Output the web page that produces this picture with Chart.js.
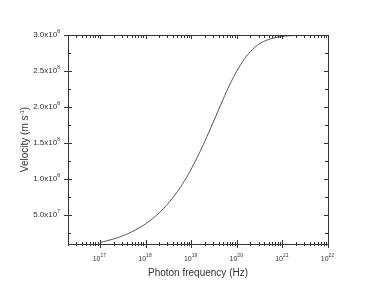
<!DOCTYPE html>
<html>
<head>
<meta charset="utf-8">
<script src="https://cdn.jsdelivr.net/npm/chart.js@4"></script>
<style>
  html, body { margin: 0; padding: 0; background: #fff; }
  #wrap { width: 382px; height: 292px; }
</style>
</head>
<body>
<div id="wrap"><canvas id="chart"></canvas></div>
<script>
// Photon frequency (Hz) and velocity (m/s)
const frequencies = [1e17, 2e17, 3e17, 5e17, 1e18, 2e18, 3e18, 5e18, 7e18, 1e19, 1.5e19, 2e19, 3e19,
  5e19, 7e19, 1e20, 1.5e20, 2e20, 3e20, 5e20, 1e21, 2e21, 5e21, 1e22];
const velocities = [1.20e7, 1.70e7, 2.08e7, 2.69e7, 3.79e7, 5.33e7, 6.49e7, 8.28e7, 9.68e7, 1.138e8, 1.357e8,
  1.526e8, 1.780e8, 2.105e8, 2.308e8, 2.498e8, 2.675e8, 2.771e8, 2.868e8, 2.938e8, 2.980e8, 2.993e8, 2.997e8, 2.998e8];

// Axis ticks
const xMajorTicks = [1e17, 1e18, 1e19, 1e20, 1e21, 1e22];
const xTickExponents = ['17', '18', '19', '20', '21', '22'];
const yMajorTicks = [5e7, 1e8, 1.5e8, 2e8, 2.5e8, 3e8];
const yTickMantissas = ['5.0', '1.0', '1.5', '2.0', '2.5', '3.0'];
const yTickExponents = ['7', '8', '8', '8', '8', '8'];
const yMinorTicks = [2.5e7, 7.5e7, 1.25e8, 1.75e8, 2.25e8, 2.75e8];

const FONT = '"Liberation Sans", Arial, sans-serif';
const INK = '#333';

/**
 * Draw a base string followed by a raised exponent
 */
function drawPower(ctx, base, exp, x, y, baseSize, expSize, align) {
  ctx.font = baseSize + 'px ' + FONT;
  const bw = ctx.measureText(base).width;
  ctx.font = expSize + 'px ' + FONT;
  const ew = ctx.measureText(exp).width;
  let left = x;
  if (align === 'right') left = x - bw - ew;
  if (align === 'center') left = x - (bw + ew) / 2;
  ctx.textAlign = 'left';
  ctx.textBaseline = 'middle';
  ctx.font = baseSize + 'px ' + FONT;
  ctx.fillText(base, left, y);
  ctx.font = expSize + 'px ' + FONT;
  ctx.fillText(exp, left + bw, y - baseSize * 0.42);
}

/**
 * Frame, crossing ticks, tick labels and axis titles
 */
const framePlugin = {
  id: 'frame',
  afterDraw(chart) {
    const { ctx, chartArea: a, scales } = chart;
    const xs = scales.x, ys = scales.y;
    ctx.save();
    ctx.strokeStyle = INK;
    ctx.fillStyle = INK;
    ctx.lineWidth = 1;
    ctx.strokeRect(Math.round(a.left) + 0.5, Math.round(a.top) + 0.5,
      Math.round(a.right - a.left), Math.round(a.bottom - a.top));

    const line = (x1, y1, x2, y2) => {
      ctx.beginPath();
      ctx.moveTo(x1, y1);
      ctx.lineTo(x2, y2);
      ctx.stroke();
    };

    // y ticks
    yMajorTicks.forEach(v => {
      const y = Math.round(ys.getPixelForValue(v)) + 0.5;
      line(a.left - 4, y, a.left + 4, y);
      line(a.right - 4, y, a.right, y);
    });
    yMinorTicks.forEach(v => {
      const y = Math.round(ys.getPixelForValue(v)) + 0.5;
      line(a.left, y, a.left + 3, y);
      line(a.right - 3, y, a.right, y);
    });

    // x ticks, decades plus 2..9 minors
    for (let d = 16; d < 22; d++) {
      for (let m = 1; m <= 9; m++) {
        const v = m * Math.pow(10, d);
        if (v < xs.min || v > xs.max) continue;
        const x = Math.round(xs.getPixelForValue(v)) + 0.5;
        if (m === 1) {
          line(x, a.bottom - 4, x, a.bottom + 4);
          line(x, a.top, x, a.top + 4);
        } else {
          line(x, a.bottom - 2, x, a.bottom + 2);
          line(x, a.top, x, a.top + 3);
        }
      }
    }
    const xEnd = Math.round(xs.getPixelForValue(1e22)) + 0.5;
    line(xEnd, a.bottom - 4, xEnd, a.bottom + 4);

    // tick labels
    yMajorTicks.forEach((v, i) => {
      const y = ys.getPixelForValue(v);
      drawPower(ctx, yTickMantissas[i] + 'x10', yTickExponents[i], a.left - 8, y, 8, 5, 'right');
    });
    xMajorTicks.forEach((v, i) => {
      const x = xs.getPixelForValue(v);
      drawPower(ctx, '10', xTickExponents[i], x - 0.5, a.bottom + 15, 7, 5, 'center');
    });

    // axis titles
    ctx.font = '10px ' + FONT;
    ctx.textAlign = 'center';
    ctx.textBaseline = 'alphabetic';
    ctx.fillText('Photon frequency (Hz)', (a.left + a.right) / 2, a.bottom + 32);

    ctx.translate(27.5, (a.top + a.bottom) / 2);
    ctx.rotate(-Math.PI / 2);
    ctx.font = '10px ' + FONT;
    const t1 = 'Velocity (m s', t2 = '-1', t3 = ')';
    const w1 = ctx.measureText(t1).width, w3 = ctx.measureText(t3).width;
    ctx.font = '6px ' + FONT;
    const w2 = ctx.measureText(t2).width;
    let left = -(w1 + w2 + w3) / 2;
    ctx.textAlign = 'left';
    ctx.font = '10px ' + FONT;
    ctx.fillText(t1, left, 0);
    ctx.font = '6px ' + FONT;
    ctx.fillText(t2, left + w1, -4);
    ctx.font = '10px ' + FONT;
    ctx.fillText(t3, left + w1 + w2, 0);
    ctx.restore();
  }
};

const hiddenAxis = {
  ticks: { display: false },
  grid: { display: false, drawTicks: false },
  border: { display: false },
  afterFit(scale) {
    scale.width = 0;
    scale.height = 0;
  }
};

new Chart(document.getElementById('chart'), {
  type: 'line',
  data: {
    datasets: [{
      data: frequencies.map((f, i) => ({ x: f, y: velocities[i] })),
      borderColor: '#555',
      borderWidth: 1,
      pointRadius: 0,
      tension: 0.4,
      fill: false
    }]
  },
  options: {
    responsive: true,
    maintainAspectRatio: false,
    animation: false,
    layout: { padding: { left: 68, right: 54, top: 35, bottom: 48 } },
    plugins: {
      legend: { display: false },
      tooltip: { enabled: false }
    },
    scales: {
      x: { ...hiddenAxis, type: 'logarithmic', min: 2e16, max: 1e22 },
      y: { ...hiddenAxis, type: 'linear', min: 1e7, max: 3e8 }
    }
  },
  plugins: [framePlugin]
});
</script>
</body>
</html>
